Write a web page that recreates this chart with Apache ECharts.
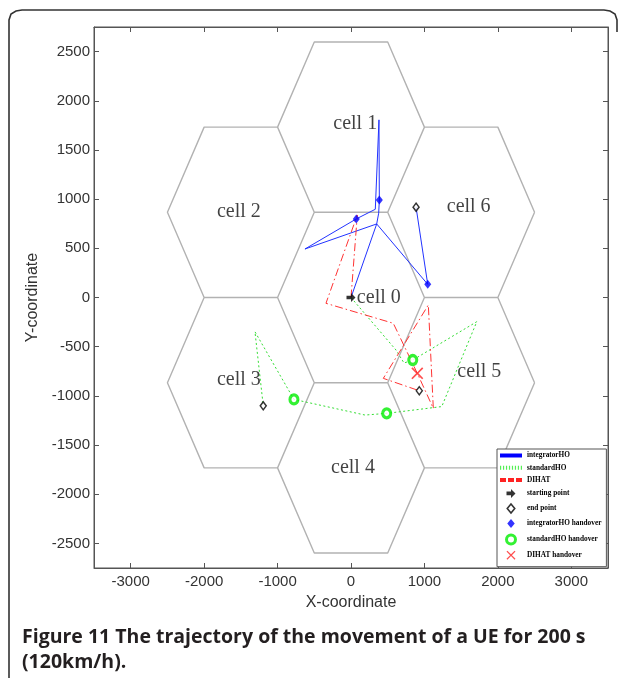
<!DOCTYPE html>
<html><head><meta charset="utf-8">
<script src="https://cdn.jsdelivr.net/npm/echarts@6/dist/echarts.min.js"></script>
<style>html,body{margin:0;padding:0;background:#fff}#c{width:625px;height:678px}</style>
</head><body><div id="c"></div>
<script>
// ---- data ----
const xTicks = [-3000, -2000, -1000, 0, 1000, 2000, 3000];
const yTicks = [-2500, -2000, -1500, -1000, -500, 0, 500, 1000, 1500, 2000, 2500];
const cellNames = ['cell 0', 'cell 1', 'cell 2', 'cell 3', 'cell 4', 'cell 5', 'cell 6'];
const cellCenters = [[0, 0], [0, 1732], [-1500, 866], [-1500, -866], [0, -1732], [1500, -866], [1500, 866]];
const cellRadius = 1000;
const cellLabelPos = [[80, 0], [-241, 1765], [-1826, 870], [-1826, -839], [-272, -1734], [1448, -755], [1304, 924]];
const integratorHO = [[0, 0], [350, 748], [377, 857], [386, 992], [381, 1806], [331, 897], [72, 799], [-627, 493], [350, 748], [1045, 134], [886, 918]];
const standardHO = [[0, 0], [613, -534], [722, -666], [841, -636], [1713, -246], [1236, -1109], [486, -1178], [191, -1195], [-777, -1036], [-1308, -348], [-1195, -1101]];
const dihat = [[0, 0], [86, 839], [-341, -59], [576, -262], [903, -771], [1121, -1127], [1053, -76], [440, -822], [930, -948]];
const startPoint = [[0, 0]];
const endPoints = [[886, 918], [930, -948], [-1195, -1101]];
const integratorHandover = [[386, 992], [72, 799], [1045, 134]];
const standardHandover = [[841, -636], [486, -1178], [-777, -1036]];
const dihatHandover = [[903, -771]];
const legendNames = ['integratorHO', 'standardHO', 'DIHAT', 'starting point', 'end point', 'integratorHO handover', 'standardHO handover', 'DIHAT handover'];

// hexagon outlines built from the cell centres
const hexData = [];
cellCenters.forEach(function (c) {
  for (let k = 0; k <= 6; k++) {
    const a = Math.PI / 3 * k;
    hexData.push([c[0] + cellRadius * Math.cos(a), c[1] + cellRadius * Math.sin(a)]);
  }
  hexData.push(['-', '-']);
});

const AX = "'Liberation Sans',Arial,sans-serif";
const SERIF = "'Liberation Serif','Times New Roman',serif";
const ARROW = 'path://M0,3H5V0L10,5L5,10V7H0Z';
const DIAM = 'path://M5,0L10,6L5,12L0,6Z';
const XMARK = 'path://M0,1L1,0L5,4L9,0L10,1L6,5L10,9L9,10L5,6L1,10L0,9L4,5Z';
let dots = 'path://';
for (let i = 0; i < 22; i += 3) dots += 'M' + i + ',0H' + (i + 1.2) + 'V4H' + i + 'Z';

const plain = function (v) { return String(v); };
const chart = echarts.init(document.getElementById('c'), null, { renderer: 'canvas' });
const axisColor = '#555';
const labelColor = '#333';
chart.setOption({
  animation: false,
  backgroundColor: '#fff',
  grid: { left: 94, right: 17, top: 27, bottom: 110, show: true, borderColor: axisColor, borderWidth: 1 },
  xAxis: [{
    type: 'value', min: -3500, max: 3500, position: 'bottom',
    name: 'X-coordinate', nameLocation: 'middle', nameGap: 27,
    nameTextStyle: { fontFamily: AX, fontSize: 16, color: labelColor },
    axisLine: { show: true, onZero: false, lineStyle: { color: axisColor } },
    axisTick: { show: true, inside: true, length: 5, customValues: xTicks, lineStyle: { color: axisColor } },
    axisLabel: { customValues: xTicks, formatter: plain, fontFamily: AX, fontSize: 15, color: labelColor, margin: 6 },
    splitLine: { show: false }
  }, {
    type: 'value', min: -3500, max: 3500, position: 'top',
    axisLine: { show: true, onZero: false, lineStyle: { color: axisColor } },
    axisTick: { show: true, inside: true, length: 5, customValues: xTicks, lineStyle: { color: axisColor } },
    axisLabel: { show: false }, splitLine: { show: false }
  }],
  yAxis: [{
    type: 'value', min: -2750, max: 2750, position: 'left',
    name: 'Y-coordinate', nameLocation: 'middle', nameGap: 40, nameRotate: 90,
    nameTextStyle: { fontFamily: AX, fontSize: 16, color: labelColor },
    axisLine: { show: true, onZero: false, lineStyle: { color: axisColor } },
    axisTick: { show: true, inside: true, length: 5, customValues: yTicks, lineStyle: { color: axisColor } },
    axisLabel: { customValues: yTicks, formatter: plain, fontFamily: AX, fontSize: 15, color: labelColor, margin: 4 },
    splitLine: { show: false }
  }, {
    type: 'value', min: -2750, max: 2750, position: 'right',
    axisLine: { show: true, onZero: false, lineStyle: { color: axisColor } },
    axisTick: { show: true, inside: true, length: 5, customValues: yTicks, lineStyle: { color: axisColor } },
    axisLabel: { show: false }, splitLine: { show: false }
  }],
  legend: {
    orient: 'vertical', left: 497, top: 449,
    padding: [3, 5, 7, 3], itemWidth: 22, itemHeight: 9, itemGap: 5.3,
    backgroundColor: '#fff', borderColor: '#555', borderWidth: 1, borderRadius: 0,
    textStyle: { fontFamily: SERIF, fontWeight: 'bold', fontSize: 7.3, color: '#000' },
    selectedMode: false,
    data: [
      { name: legendNames[0], icon: 'path://M0,0H22V4H0Z', itemStyle: { color: '#0000ff' } },
      { name: legendNames[1], icon: dots, itemStyle: { color: '#55ee55' } },
      { name: legendNames[2], icon: 'path://M0,0H6V4H0Z M8,0H14V4H8Z M16,0H22V4H16Z', itemStyle: { color: '#ff2222' } },
      { name: legendNames[3], icon: ARROW, itemStyle: { color: '#000' } },
      { name: legendNames[4], icon: DIAM, itemStyle: { color: '#fff', borderColor: '#000', borderWidth: 1.6 } },
      { name: legendNames[5], icon: DIAM, itemStyle: { color: '#0000ff' } },
      { name: legendNames[6], icon: 'circle', itemStyle: { color: '#fff', borderColor: '#00ee00', borderWidth: 3 } },
      { name: legendNames[7], icon: XMARK, itemStyle: { color: '#ff2222' } }
    ]
  },
  series: [
    { name: 'cells', type: 'line', data: hexData, symbol: 'none', silent: true, connectNulls: false,
      lineStyle: { color: '#b2b2b2', width: 1.4 }, z: 1 },
    { name: 'cellLabels', type: 'scatter', silent: true, symbolSize: 0, z: 5,
      data: cellLabelPos.map(function (p, i) { return { value: p, name: cellNames[i] }; }),
      label: { show: true, position: 'right', distance: 0, formatter: '{b}', fontFamily: SERIF, fontSize: 20, color: '#111' } },
    { name: legendNames[0], type: 'line', data: integratorHO, symbol: 'none', z: 3,
      lineStyle: { color: '#2233ff', width: 1 }, itemStyle: { color: '#0000ff' } },
    { name: legendNames[1], type: 'line', data: standardHO, symbol: 'none', z: 3,
      lineStyle: { color: '#33dd33', width: 1, type: [2, 2.5] }, itemStyle: { color: '#55ee55' } },
    { name: legendNames[2], type: 'line', data: dihat, symbol: 'none', z: 3,
      lineStyle: { color: '#ff3333', width: 1, type: [8, 3, 1.5, 3] }, itemStyle: { color: '#ff2222' } },
    { name: legendNames[3], type: 'scatter', data: startPoint, symbol: ARROW, symbolSize: 9, z: 6,
      itemStyle: { color: '#000' } },
    { name: legendNames[4], type: 'scatter', data: endPoints, symbol: DIAM, symbolSize: [6, 8], z: 6,
      itemStyle: { color: '#fff', borderColor: '#000', borderWidth: 1.5 } },
    { name: legendNames[5], type: 'scatter', data: integratorHandover, symbol: DIAM, symbolSize: [7, 9], z: 6,
      itemStyle: { color: '#0000ff' } },
    { name: legendNames[6], type: 'scatter', data: standardHandover, symbol: 'circle', symbolSize: [8, 9], z: 6,
      itemStyle: { color: '#fff', borderColor: '#00ee00', borderWidth: 3.2 } },
    { name: legendNames[7], type: 'scatter', data: dihatHandover, symbol: XMARK, symbolSize: 12, z: 6,
      itemStyle: { color: '#ff2222' } }
  ],
  graphic: [
    { type: 'polyline', silent: true, z: 100,
      shape: { points: [[9, 678], [9, 20], [11, 14], [16, 11], [22, 10], [604, 10], [610, 11], [615, 14], [617, 20], [617, 32]] },
      style: { stroke: '#333', lineWidth: 1.6, fill: null } },
    { type: 'text', x: 22, y: 637, z: 100, silent: true,
      style: { text: 'Figure 11 The trajectory of the movement of a UE for 200 s', font: "bold 19.5px 'Open Sans',sans-serif", fill: '#231f20', verticalAlign: 'middle' } },
    { type: 'text', x: 22, y: 662, z: 100, silent: true,
      style: { text: '(120km/h).', font: "bold 19.5px 'Open Sans',sans-serif", fill: '#231f20', verticalAlign: 'middle' } }
  ]
});
</script></body></html>
